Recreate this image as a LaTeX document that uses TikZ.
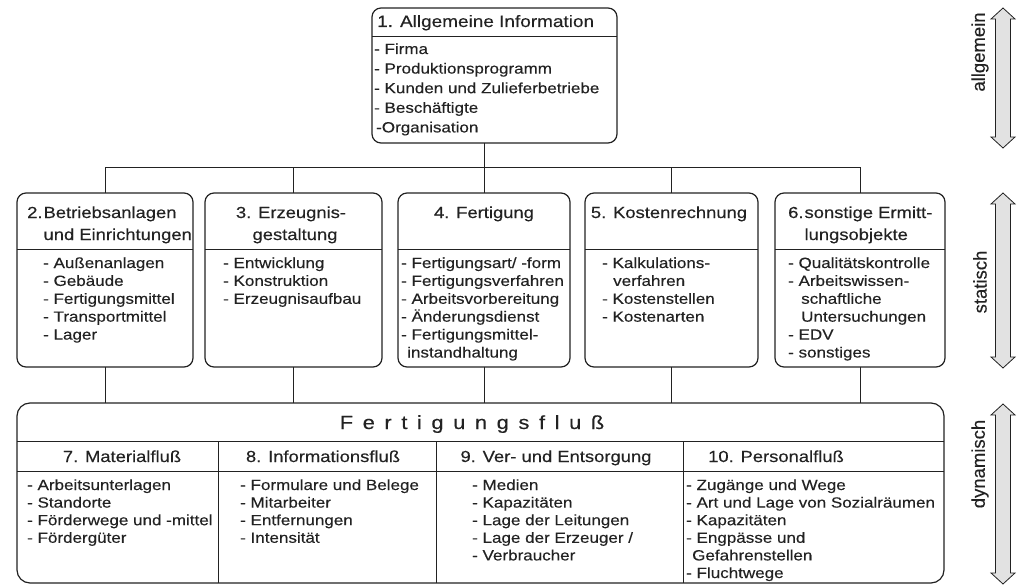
\documentclass[tikz,border=0pt]{standalone}
\usepackage{fontspec}
\setmainfont{Liberation Sans}[FakeStretch=1.15, FakeBold=0.3]
\newfontfamily\sidefamily{Liberation Sans}[FakeBold=0.3]
\definecolor{ink}{HTML}{222222}
\definecolor{shade}{HTML}{E2E2E2}
\newcommand\fsItem{\fontsize{14.8pt}{17.6pt}\selectfont}
\newcommand\fsHead{\fontsize{16pt}{20pt}\selectfont}
\newcommand\fsTop{\fontsize{16.5pt}{20pt}\selectfont}
\newcommand\fsTitle{\fontsize{19pt}{22pt}\selectfont}
\newcommand\fsSide{\sidefamily\fontsize{18.5pt}{20pt}\selectfont}
\newcommand\gapk{\kern9.6pt}
% double-headed outline arrow on the right margin: #1 = top, #2 = bottom
\newcommand\sidearrow[2]{%
  \path[shaft] (1003,#1) -- (1015,#1+11) -- (1010.5,#1+11) -- (1010.5,#2-11)
    -- (1015,#2-11) -- (1003,#2) -- (991,#2-11) -- (995.5,#2-11)
    -- (995.5,#1+11) -- (991,#1+11) -- cycle;}
\begin{document}
\begin{tikzpicture}[x=1pt,y=-1pt,
  panel/.style={draw=ink, line width=1.2pt, rounded corners=9pt, inner sep=0pt, outer sep=0pt},
  rule/.style={draw=ink, line width=1pt},
  wire/.style={draw=ink, line width=1pt},
  item/.style={inner sep=0pt, anchor=base west, font=\fsItem, text=ink},
  head/.style={inner sep=0pt, anchor=base, font=\fsHead, text=ink},
  headw/.style={head, anchor=base west},
  side/.style={inner sep=0pt, rotate=90, font=\fsSide, text=ink},
  shaft/.style={draw=ink, line width=0.8pt, fill=shade, line join=miter}
]
\useasboundingbox (0,0) rectangle (1023,586);

% ---------- general information ----------
\node[panel, minimum width=245pt, minimum height=135pt] (info) at (494.5,75.5) {};
\draw[rule] (info.west |- 0,37) -- (info.east |- 0,37);
\node[inner sep=0pt, anchor=base west, font=\fsTop, text=ink] (infoh) at (377,27) {1. Allgemeine Information};
\foreach \t [count=\i from 0] in {- Firma, - Produktionsprogramm, - Kunden und Zulieferbetriebe, - Beschäftigte, {\hspace{2pt}-Organisation}}
  \node[item] (infoi\i) at (374,{54+\i*19.6}) {\t};

% ---------- static objects ----------
\node[panel, minimum width=176pt, minimum height=174pt] (b2) at (105,280) {};
\node[panel, minimum width=177pt, minimum height=174pt] (b3) at (293.5,280) {};
\node[panel, minimum width=172pt, minimum height=174pt] (b4) at (484,280) {};
\node[panel, minimum width=173pt, minimum height=174pt] (b5) at (671.5,280) {};
\node[panel, minimum width=170pt, minimum height=174pt] (b6) at (860,280) {};
\foreach \b in {b2,b3,b4,b5,b6}
  \draw[rule] (\b.west |- 0,249) -- (\b.east |- 0,249);

% headings
\node[headw] (b2h1) at (27,218) {2.\hspace{1pt}Betriebsanlagen};
\node[headw] (b2h2) at (27,240) {\phantom{2.\hspace{1pt}}und Einrichtungen};
\node[head] (b3h1) at (291,218) {3. Erzeugnis-};
\node[head] (b3h2) at (295,240) {gestaltung};
\node[head] (b4h1) at (484,218) {4. Fertigung};
\node[head] (b5h1) at (669,218) {5. Kostenrechnung};
\node[headw] (b6h1) at (788,218) {6.\hspace{1pt}sonstige Ermitt-};
\node[headw] (b6h2) at (788,240) {\phantom{6.\hspace{1pt}}lungsobjekte};

% item lists
\foreach \t [count=\i from 0] in {- Außenanlagen, - Gebäude, - Fertigungsmittel, - Transportmittel, - Lager}
  \node[item] (b2i\i) at (43,{268+\i*17.9}) {\t};
\foreach \t [count=\i from 0] in {- Entwicklung, - Konstruktion, - Erzeugnisaufbau}
  \node[item] (b3i\i) at (223,{268+\i*17.9}) {\t};
\foreach \t [count=\i from 0] in {- Fertigungsart/ -form, - Fertigungsverfahren, - Arbeitsvorbereitung, - Änderungsdienst, - Fertigungsmittel-, {\hspace{6pt}instandhaltung}}
  \node[item] (b4i\i) at (401,{268+\i*17.9}) {\t};
\foreach \t [count=\i from 0] in {- Kalkulations-, {\hspace{11pt}verfahren}, - Kostenstellen, - Kostenarten}
  \node[item] (b5i\i) at (602,{268+\i*17.9}) {\t};
\foreach \t [count=\i from 0] in {- Qualitätskontrolle, - Arbeitswissen-, {\hspace{13pt}schaftliche}, {\hspace{13pt}Untersuchungen}, - EDV, - sonstiges}
  \node[item] (b6i\i) at (788,{268+\i*17.9}) {\t};

% ---------- production flow ----------
\node[panel, rounded corners=13pt, minimum width=927pt, minimum height=180pt] (flow) at (480.5,493) {};
\draw[rule] (flow.west |- 0,441) -- (flow.east |- 0,441);
\draw[rule] (flow.west |- 0,471) -- (flow.east |- 0,471);
\foreach \x in {218,436,683}
  \draw[rule] (\x,441) -- (\x,583);
\node[inner sep=0pt, anchor=base, font=\fsTitle, text=ink] (flowh) at (472,429)
  {F\gapk e\gapk r\gapk t\gapk i\gapk g\gapk u\gapk n\gapk g\gapk s\gapk f\gapk l\gapk u\gapk ß};

\node[head] (f7h) at (122,462) {7. Materialfluß};
\node[head] (f8h) at (323,462) {8. Informationsfluß};
\node[head] (f9h) at (556,462) {9. Ver- und Entsorgung};
\node[head] (f10h) at (776,462) {10. Personalfluß};

\foreach \t [count=\i from 0] in {- Arbeitsunterlagen, - Standorte, - Förderwege und -mittel, - Fördergüter}
  \node[item] (f7i\i) at (27,{490+\i*17.6}) {\t};
\foreach \t [count=\i from 0] in {- Formulare und Belege, - Mitarbeiter, - Entfernungen, - Intensität}
  \node[item] (f8i\i) at (240,{490+\i*17.6}) {\t};
\foreach \t [count=\i from 0] in {- Medien, - Kapazitäten, - Lage der Leitungen, - Lage der Erzeuger /, - Verbraucher}
  \node[item] (f9i\i) at (472,{490+\i*17.6}) {\t};
\foreach \t [count=\i from 0] in {- Zugänge und Wege, - Art und Lage von Sozialräumen, - Kapazitäten, - Engpässe und, {\hspace{6pt}Gefahrenstellen}, - Fluchtwege}
  \node[item] (f10i\i) at (686,{490+\i*17.6}) {\t};

% ---------- connectors ----------
\coordinate (bus) at (484,167);
\draw[wire] (info.south -| bus) -- (bus);
\draw[wire] (b2.north |- bus) -- (b6.north |- bus);
\foreach \b in {b2,b3,b4,b5,b6} {
  \draw[wire] (\b.north |- bus) -- (\b.north);
  \draw[wire] (\b.south) -- (\b.south |- flow.north);
}

% ---------- level markers ----------
\sidearrow{8}{148}
\sidearrow{193}{368}
\sidearrow{404}{584}
\node[side] (lvlA) at (980,52) {allgemein};
\node[side] (lvlS) at (980,282) {statisch};
\node[side] (lvlD) at (980,464) {dynamisch};
\end{tikzpicture}
\end{document}
